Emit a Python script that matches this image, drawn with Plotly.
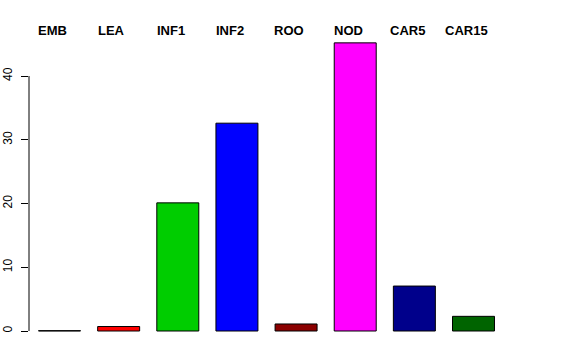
import plotly.graph_objects as go

categories = ["EMB", "LEA", "INF1", "INF2", "ROO", "NOD", "CAR5", "CAR15"]
values = [0.05, 0.7, 20.1, 32.6, 1.1, 45.2, 7.05, 2.3]
colors = ["#000000", "#FF0000", "#00CD00", "#0000FF", "#8B0000", "#FF00FF", "#00008B", "#006400"]
y_ticks = [0, 10, 20, 30, 40]

xpos = list(range(len(categories)))

fig = go.Figure()
fig.add_trace(go.Bar(
    x=xpos, y=values,
    marker=dict(color=colors, line=dict(color="black", width=1)),
    showlegend=False, hoverinfo="skip",
))

for i, c in enumerate(categories):
    fig.add_annotation(
        x=i - 0.12, y=1, xref="x", yref="paper",
        text="<b>" + c + "</b>", showarrow=False,
        xanchor="center", yanchor="middle", yshift=1,
        font=dict(family="Liberation Sans, Arial, sans-serif", size=13, color="black"),
    )

# R-style y axis line spanning the tick range only
fig.add_shape(type="line", xref="paper", yref="y", x0=0, x1=0,
              y0=min(y_ticks), y1=max(y_ticks), line=dict(color="black", width=1))

fig.update_layout(
    width=576, height=360,
    margin=dict(l=29, r=20, t=31, b=16, autoexpand=False),
    paper_bgcolor="white", plot_bgcolor="white",
    bargap=0.29,
    xaxis=dict(range=[-0.516, 8.395], showticklabels=False, showgrid=False,
               zeroline=False, showline=False, ticks="", automargin=False),
    yaxis=dict(range=[-2.04, 47.06], tickvals=y_ticks, ticktext=[str(v) for v in y_ticks],
               showgrid=False, zeroline=False, showline=False, automargin=False,
               ticks="outside", ticklen=7, tickcolor="black", tickwidth=1,
               tickangle=-90, ticklabelstandoff=4,
               tickfont=dict(family="Liberation Sans, Arial, sans-serif", size=12, color="black")),
)

fig.write_html("out.html", config={"displayModeBar": False},
               post_script="document.body.style.margin='0';document.body.style.padding='0';")
